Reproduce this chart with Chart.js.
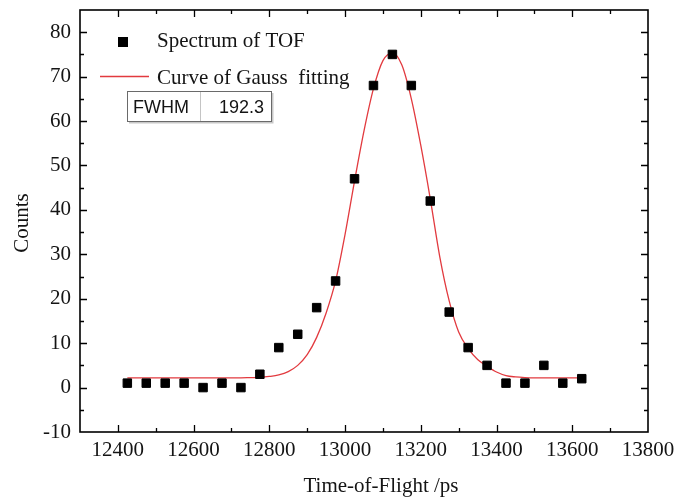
<!DOCTYPE html>
<html><head><meta charset="utf-8">
<script src="https://cdn.jsdelivr.net/npm/chart.js@4.4.0/dist/chart.umd.min.js"></script>
<style>html,body{margin:0;padding:0;background:#fff;}canvas{display:block;}</style>
</head><body>
<canvas id="c" width="676" height="500"></canvas>
<script>
// ---- data ----
const tofX = [12425,12475,12525,12575,12625,12675,12725,12775,12825,12875,12925,12975,13025,13075,13125,13175,13225,13275,13325,13375,13425,13475,13525,13575,13625];
const counts = [1,1,1,1,0,1,0,3,9,12,18,24,47,68,75,68,42,17,9,5,1,1,5,1,2];
const fitX = [12425,12450,12475,12500,12525,12550,12575,12600,12625,12650,12675,12700,12725,12750,
  12775,12800,12825,12850,12875,12900,12925,12950,12975,13000,13025,13050,13075,13100,13125,
  13150,13175,13200,13225,13250,13275,13300,13325,13350,13375,13400,13425,13450,13475,
  13500,13525,13550,13575,13600,13625];
const fitY = [2.2,2.2,2.2,2.2,2.2,2.2,2.2,2.2,2.2,2.2,2.2,2.2,2.2,2.25,
  2.3,2.5,2.85,3.6,5.0,7.4,11.3,16.8,24.0,34.5,46.5,57.8,67.3,73.6,75.3,
  72.6,65.0,54.5,42.5,29.5,19.5,12.5,8.8,6.3,4.8,3.5,2.7,2.4,2.25,
  2.2,2.2,2.2,2.2,2.2,2.2];
const xTickLabels = ['12400','12600','12800','13000','13200','13400','13600','13800'];
const yTickLabels = ['-10','0','10','20','30','40','50','60','70','80'];
const seriesNames = ['Spectrum of TOF','Curve of Gauss  fitting'];
const xTitle = 'Time-of-Flight /ps';
const yTitle = 'Counts';
const fwhmLabel = 'FWHM';
const fwhmValue = '192.3';

const SERIF = '"Liberation Serif","Times New Roman",serif';
const SANS = '"Liberation Sans",Arial,sans-serif';
const TXT = '#141414';
const RED = '#e23a3f';

const pointsData = tofX.map((x,i)=>({x, y: counts[i]}));
const fitData = fitX.map((x,i)=>({x, y: fitY[i]}));

const decor = {
  id: 'decor',
  afterDraw(chart){
    const {ctx, chartArea:a, scales:{x, y}} = chart;
    ctx.save();
    // inward ticks on four sides
    ctx.strokeStyle = '#000';
    ctx.lineWidth = 1.3;
    ctx.beginPath();
    x.ticks.forEach(t=>{
      const px = Math.round(x.getPixelForValue(t.value)) + 0.5;
      if (px <= a.left + 1 || px >= a.right - 1) return;
      const L = t.label ? 7 : 4;
      ctx.moveTo(px, a.bottom); ctx.lineTo(px, a.bottom - L);
      ctx.moveTo(px, a.top); ctx.lineTo(px, a.top + L);
    });
    y.ticks.forEach(t=>{
      const py = Math.round(y.getPixelForValue(t.value)) + 0.5;
      if (py <= a.top + 1 || py >= a.bottom - 1) return;
      const L = t.label ? 7 : 4;
      ctx.moveTo(a.left, py); ctx.lineTo(a.left + L, py);
      ctx.moveTo(a.right, py); ctx.lineTo(a.right - L, py);
    });
    ctx.stroke();
    // frame
    ctx.lineWidth = 1.6;
    ctx.strokeRect(a.left, a.top, a.right - a.left, a.bottom - a.top);

    // axis titles
    ctx.fillStyle = TXT;
    ctx.font = '21px ' + SERIF;
    ctx.textAlign = 'center';
    ctx.textBaseline = 'middle';
    ctx.fillText(xTitle, 381, 486);
    ctx.save();
    ctx.translate(22, 223);
    ctx.rotate(-Math.PI/2);
    ctx.fillText(yTitle, 0, 0);
    ctx.restore();

    // legend
    ctx.fillStyle = '#000';
    ctx.fillRect(118, 37, 10, 10);
    ctx.strokeStyle = RED;
    ctx.lineWidth = 1.3;
    ctx.beginPath(); ctx.moveTo(100, 76.5); ctx.lineTo(149, 76.5); ctx.stroke();
    ctx.fillStyle = TXT;
    ctx.font = '21px ' + SERIF;
    ctx.textAlign = 'left';
    ctx.textBaseline = 'alphabetic';
    ctx.fillText(seriesNames[0], 157, 47);
    ctx.fillText(seriesNames[1], 157, 84);

    // FWHM box
    ctx.fillStyle = '#fff';
    ctx.fillRect(127, 91, 144, 30);
    ctx.strokeStyle = '#c8c8c8';
    ctx.lineWidth = 2;
    ctx.beginPath(); ctx.moveTo(129, 122.5); ctx.lineTo(272.5, 122.5); ctx.lineTo(272.5, 93); ctx.stroke();
    ctx.strokeStyle = '#6a6a6a';
    ctx.lineWidth = 1;
    ctx.strokeRect(127.5, 91.5, 144, 30);
    ctx.strokeStyle = '#c4c4c4';
    ctx.beginPath(); ctx.moveTo(200.5, 92); ctx.lineTo(200.5, 121); ctx.stroke();
    ctx.fillStyle = TXT;
    ctx.font = '18px ' + SANS;
    ctx.textAlign = 'left';
    ctx.fillText(fwhmLabel, 133, 113);
    ctx.textAlign = 'right';
    ctx.fillText(fwhmValue, 264, 113);
    ctx.restore();
  }
};

new Chart(document.getElementById('c'), {
  type: 'scatter',
  data: {
    datasets: [
      {
        label: seriesNames[0],
        data: pointsData,
        pointStyle: 'rect',
        pointRadius: 6,
        pointBackgroundColor: '#000',
        pointBorderColor: '#000',
        pointBorderWidth: 1,
        showLine: false
      },
      {
        label: seriesNames[1],
        data: fitData,
        showLine: true,
        pointRadius: 0,
        borderColor: RED,
        borderWidth: 1.3,
        cubicInterpolationMode: 'monotone',
        fill: false
      }
    ]
  },
  options: {
    responsive: false,
    animation: false,
    devicePixelRatio: 1,
    layout: { padding: { top: 10, right: 28, left: 0, bottom: 0 } },
    plugins: { legend: { display: false }, tooltip: { enabled: false } },
    scales: {
      x: {
        type: 'linear',
        min: 12300, max: 13800,
        grid: { display: false, drawTicks: false },
        border: { display: false },
        afterBuildTicks: s => { s.ticks = []; for (let v = 12300; v <= 13800; v += 100) s.ticks.push({value: v}); },
        ticks: {
          autoSkip: false, maxRotation: 0, minRotation: 0,
          padding: 6,
          color: TXT,
          font: { family: SERIF, size: 21 },
          callback: v => xTickLabels.includes(String(v)) ? String(v) : ''
        },
        afterFit: s => { s.height = 68; s.paddingLeft = 0; s.paddingRight = 0; }
      },
      y: {
        type: 'linear',
        min: -10, max: 85,
        grid: { display: false, drawTicks: false },
        border: { display: false },
        afterBuildTicks: s => { s.ticks = []; for (let v = -10; v <= 80; v += 5) s.ticks.push({value: v}); },
        ticks: {
          autoSkip: false,
          padding: 9,
          color: TXT,
          font: { family: SERIF, size: 21 },
          callback: v => yTickLabels.includes(String(v)) ? String(v) : ''
        },
        afterFit: s => { s.width = 80; s.paddingTop = 0; s.paddingBottom = 0; }
      }
    }
  },
  plugins: [decor]
});
</script>
</body></html>
